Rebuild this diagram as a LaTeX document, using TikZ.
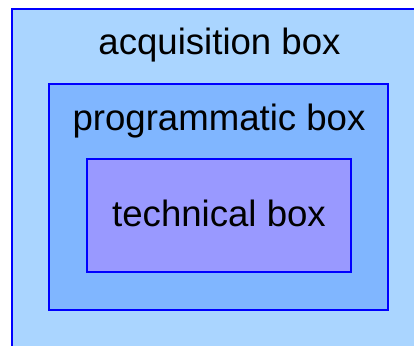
\documentclass[tikz,border=0pt]{standalone}
\usepackage{fontspec}
\setmainfont{Liberation Sans}
\usepackage{xcolor}
\usepackage{tikz}
\definecolor{acqblue}{RGB}{170, 213, 255}
\definecolor{progblue}{RGB}{128, 182, 255}
\definecolor{techblue}{RGB}{153, 153, 255}

\begin{document}
\begin{tikzpicture}[
    x=1pt, y=-1pt, % pixel-like units, y going down
    every node/.style={font=\fontsize{36.6}{44}\selectfont},
    layer/.style={rectangle, draw=blue, line width=1.2pt, inner sep=0pt,
                  outer sep=0pt, anchor=north west},
    boxtext/.style={anchor=base, inner sep=0pt}
]
\useasboundingbox (0,0) rectangle (414,345);
\clip (0,0) rectangle (414,345);

% Boxes
\node[layer, fill=acqblue, minimum width=414pt, minimum height=360pt] (acq) at (12,9) {};
\node[layer, fill=progblue, minimum width=339pt, minimum height=226pt] (prog) at (49,84) {};
\node[layer, fill=techblue, minimum width=264pt, minimum height=113pt] (tech) at (87,159) {};

% Labels
\node[boxtext] (acqlabel)  at (219.5,54.3) {acquisition box};
\node[boxtext] (proglabel) at (219,130)    {programmatic box};
\node[boxtext] (techlabel) at (219,226.7)  {technical box};

\end{tikzpicture}
\end{document}
